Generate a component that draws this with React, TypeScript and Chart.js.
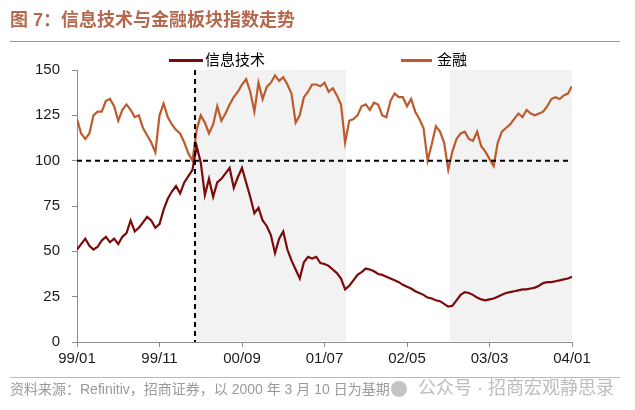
import React, {useEffect, useRef} from "react";
import {Chart, registerables} from "chart.js";

Chart.register(...registerables);

// x axis: months counted from 1999/01, one point every half month
const xTickLabels = ['99/01', '99/11', '00/09', '01/07', '02/05', '03/03', '04/01'];
const monthsPerTick = 10;
const pointsPerMonth = 2;

// 以 2000 年 3 月 10 日为基期 = 100
const itValues = [
    51, 54, 57, 53, 51, 52.5, 56, 58, 55, 57,
    54, 58, 60, 67, 61, 63, 66, 69, 67, 63,
    65, 73, 79, 83, 86, 82, 88, 91.5, 95, 108,
    99, 81, 90, 80, 88, 90, 93, 96, 85, 91,
    96, 88, 80, 71, 74, 67, 64, 59, 49, 57,
    61, 51, 45, 40, 35, 44, 47, 46, 47, 43.5,
    43, 42, 40, 38, 35, 29, 31, 34, 37, 38.5,
    40.5, 40, 39, 37.5, 37, 36, 35, 34, 33, 31.5,
    30.5, 29.5, 28, 27, 26, 24.5, 24, 23, 22.5, 21,
    19.5, 20, 23, 26, 27.5, 27, 26, 24.5, 23.5, 23,
    23.5, 24, 25, 26, 27, 27.5, 28, 28.5, 29, 29,
    29.5, 30, 31, 32.5, 33, 33, 33.5, 34, 34.5, 35,
    36,
];

const finValues = [
    123, 115, 112, 115, 125, 127, 127, 133, 134, 130,
    122, 128, 131, 128, 124, 125, 118, 114, 110, 104.6,
    125, 131.5, 124, 120, 117, 115, 110, 104, 100, 117,
    125, 121, 115, 120, 130, 122, 126, 131, 135, 138,
    142, 145, 138, 127, 143, 134, 140.7, 143, 147, 144,
    146, 142, 137, 121, 125, 135, 138, 142, 142, 141,
    143, 138, 140, 136, 131, 110, 122, 123, 125, 130,
    131, 128, 132, 131, 125, 124, 133, 137, 135, 135,
    130, 134, 127, 123, 118, 100, 109, 119, 116, 110,
    95, 105, 112, 115, 116, 112, 111, 116, 108, 105,
    101, 97, 110, 116, 118, 120, 123, 126, 124, 128,
    126, 125, 126, 127, 130, 134, 135, 134, 136, 137,
    141,
];

const baseDate = 14.3; // 2000/03/10
const baseLevel = 100;
const shadedPeriods: [number, number][] = [[14.3, 32.6], [45.2, 60]];

const seriesNames = ['信息技术', '金融'];
const itColor = '#7b0a0a';
const finColor = '#bd5a2e';
const axisColor = '#8c8c8c';
const latinFont = "'Liberation Sans', Arial, 'Noto Sans CJK SC', sans-serif";

const toPoints = (values: number[]) => values.map((v, i) => ({x: i / pointsPerMonth, y: v}));

const guides = {
    id: 'guides',
    beforeDatasetsDraw(chart: any) {
        const {ctx, chartArea: a, scales: {x}} = chart;
        ctx.save();
        ctx.fillStyle = '#f2f2f2';
        shadedPeriods.forEach(([s, e]) => {
            const x0 = x.getPixelForValue(s);
            const x1 = x.getPixelForValue(e);
            ctx.fillRect(x0, a.top, x1 - x0, a.bottom - a.top - 1);
        });
        ctx.restore();
    },
    afterDatasetsDraw(chart: any) {
        const {ctx, chartArea: a, scales: {x, y}} = chart;
        ctx.save();
        ctx.strokeStyle = '#000';
        ctx.lineWidth = 2;
        ctx.setLineDash([5, 4]);
        const yb = y.getPixelForValue(baseLevel);
        ctx.beginPath();
        ctx.moveTo(a.left, yb);
        ctx.lineTo(a.right, yb);
        ctx.stroke();
        const xb = x.getPixelForValue(baseDate);
        ctx.beginPath();
        ctx.moveTo(xb, a.top);
        ctx.lineTo(xb, a.bottom);
        ctx.stroke();
        ctx.restore();
    },
};

const LineChart: React.FC = () => {
    const canvasRef = useRef<HTMLCanvasElement>(null);

    useEffect(() => {
        if (!canvasRef.current) return;
        const ctx = canvasRef.current.getContext('2d');
        if (!ctx) return;
        const tickFont = {family: latinFont, size: 15};
        const chart = new Chart(ctx, {
            type: 'line',
            data: {
                datasets: [
                    {
                        label: seriesNames[0],
                        data: toPoints(itValues),
                        borderColor: itColor,
                        borderWidth: 2.2,
                        pointRadius: 0,
                        tension: 0,
                    },
                    {
                        label: seriesNames[1],
                        data: toPoints(finValues),
                        borderColor: finColor,
                        borderWidth: 2.2,
                        pointRadius: 0,
                        tension: 0,
                    },
                ],
            },
            options: {
                animation: false,
                responsive: false,
                parsing: false,
                layout: {padding: {top: 70, right: 63, bottom: 40, left: 0}},
                plugins: {
                    legend: {display: false},
                    tooltip: {enabled: false},
                },
                scales: {
                    x: {
                        type: 'linear',
                        min: 0,
                        max: (xTickLabels.length - 1) * monthsPerTick,
                        ticks: {
                            stepSize: monthsPerTick,
                            padding: 3,
                            color: '#1a1a1a',
                            font: tickFont,
                            maxRotation: 0,
                            callback: (v: any) => xTickLabels[Math.round(Number(v) / monthsPerTick)],
                        },
                        grid: {drawOnChartArea: false, drawTicks: true, tickLength: 5, color: axisColor},
                        border: {display: true, color: axisColor, width: 1},
                        afterFit: (scale: any) => {
                            scale.height = 28;
                        },
                    },
                    y: {
                        min: 0,
                        max: 150,
                        ticks: {stepSize: 25, padding: 12, color: '#1a1a1a', font: tickFont},
                        grid: {drawOnChartArea: false, drawTicks: true, tickLength: 5, color: axisColor},
                        border: {display: true, color: axisColor, width: 1},
                        afterFit: (scale: any) => {
                            scale.width = 77;
                        },
                    },
                },
            },
            plugins: [guides],
        });

        return () => {
            chart.destroy();
        };
    }, []);

    return <canvas ref={canvasRef} width={635} height={410} style={{position: 'absolute', left: 0, top: 0}}></canvas>;
};

const abs = (style: React.CSSProperties): React.CSSProperties => ({position: 'absolute', whiteSpace: 'nowrap', ...style});

export default function App() {
    return (
        <div style={abs({left: 0, top: 0, width: 635, height: 410, background: '#fff', overflow: 'hidden'})}>
            <LineChart/>
            <div style={abs({left: 10, top: 8, fontFamily: latinFont, fontSize: 18, lineHeight: '24px', fontWeight: 'bold', color: '#b5694f'})}>
                图 7：信息技术与金融板块指数走势
            </div>
            <div style={abs({left: 10, top: 41, width: 610, borderTop: '1px solid #b98f7c'})}></div>

            <div style={abs({left: 169, top: 59, width: 34, height: 3, background: itColor})}></div>
            <div style={abs({left: 205, top: 50, fontFamily: latinFont, fontSize: 15, lineHeight: '20px', color: '#000'})}>{seriesNames[0]}</div>
            <div style={abs({left: 401, top: 59, width: 31, height: 3, background: finColor})}></div>
            <div style={abs({left: 437, top: 50, fontFamily: latinFont, fontSize: 15, lineHeight: '20px', color: '#000'})}>{seriesNames[1]}</div>

            <div style={abs({left: 10, top: 377, width: 610, borderTop: '1px solid #d3b3a4'})}></div>
            <div style={abs({left: 10, top: 379, fontFamily: latinFont, fontSize: 14, lineHeight: '20px', color: '#9a9a9a'})}>
                资料来源：Refinitiv，招商证券，以 2000 年 3 月 10 日为基期
            </div>
            <div style={abs({left: 391, top: 381, width: 16, height: 16, borderRadius: '50%', background: '#c4c4c4'})}></div>
            <div style={abs({left: 418, top: 376, fontFamily: latinFont, fontSize: 18, lineHeight: '24px', color: '#bdbdbd'})}>
                公众号 · 招商宏观静思录
            </div>
        </div>
    );
}
